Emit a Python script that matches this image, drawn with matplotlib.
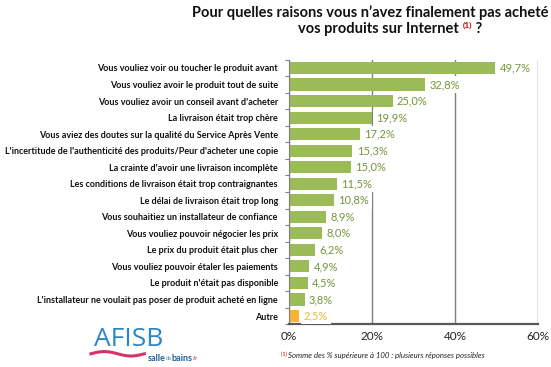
import numpy as np
import matplotlib
matplotlib.use("Agg")
import matplotlib.pyplot as plt

categories = [
    "Vous vouliez voir ou toucher le produit avant",
    "Vous vouliez avoir le produit tout de suite",
    "Vous vouliez avoir un conseil avant d'acheter",
    "La livraison était trop chère",
    "Vous aviez des doutes sur la qualité du Service Après Vente",
    "L'incertitude de l'authenticité des produits/Peur d'acheter une copie",
    "La crainte d'avoir une livraison incomplète",
    "Les conditions de livraison était trop contraignantes",
    "Le délai de livraison était trop long",
    "Vous souhaitiez un installateur de confiance",
    "Vous vouliez pouvoir négocier les prix",
    "Le prix du produit était plus cher",
    "Vous vouliez pouvoir étaler les paiements",
    "Le produit n'était pas disponible",
    "L'installateur ne voulait pas poser de produit acheté en ligne",
    "Autre",
]
values = [49.7, 32.8, 25.0, 19.9, 17.2, 15.3, 15.0, 11.5, 10.8, 8.9, 8.0, 6.2, 4.9, 4.5, 3.8, 2.5]
xticks = [0, 20, 40, 60]
xticklabels = ["0%", "20%", "40%", "60%"]

green = "#9BBB59"
green_txt = "#77933C"
orange = "#F9B233"

plt.rcParams['font.family'] = ['Lato', 'DejaVu Sans']

fig = plt.figure(figsize=(5.51, 3.67), dpi=100)
ax = fig.add_axes([0.5245, 0.1163, 0.4519, 0.721])

y = np.arange(len(categories))
colors = [green] * (len(values) - 1) + [orange]
txtcolors = [green_txt] * (len(values) - 1) + [orange]
ax.barh(y, values, height=0.73, color=colors, zorder=2)
ax.set_ylim(len(categories) - 0.5, -0.5)
ax.set_xlim(0, 60)

ax.set_xticks(xticks)
ax.set_xticklabels(xticklabels, fontsize=8.5, color="#222222")
ax.tick_params(axis='x', length=0, pad=5)
ax.xaxis.grid(True, color="#7F7F7F", linewidth=1.0, zorder=0)
ax.set_axisbelow(True)

ax.set_yticks(y)
ax.set_yticklabels(categories, fontsize=6.45, fontweight='bold', color="#111111")
ax.tick_params(axis='y', length=0, pad=8)
ax.set_yticks(np.arange(len(categories) + 1) - 0.5, minor=True)
ax.tick_params(axis='y', which='minor', length=3, color="#7F7F7F", width=0.8)

for s in ['top', 'right']:
    ax.spines[s].set_visible(False)
ax.spines['left'].set_color("#7F7F7F")
ax.spines['left'].set_linewidth(0.8)
ax.spines['bottom'].set_color("#595959")
ax.spines['bottom'].set_linewidth(1.6)

for yi, v, c in zip(y, values, txtcolors):
    ax.annotate(f"{v:.1f}%".replace(".", ","), (v, yi), xytext=(3, 0),
                textcoords='offset points', va='center', ha='left',
                fontsize=8, color=c, zorder=3,
                bbox=dict(boxstyle='square,pad=0.25', fc='white', ec='none'))

renderer = fig.canvas.get_renderer()


def chain(x0, yc, pieces):
    """Draw text pieces one after another starting at figure x0."""
    x = x0
    for txt, kw in pieces:
        dy = kw.pop('dy', 0.0)
        t = fig.text(x, yc + dy, txt, ha='left', va='center', **kw)
        bb = t.get_window_extent(renderer)
        x += bb.width / fig.bbox.width
    return x


# Title
fig.text(0.672, 0.967, "Pour quelles raisons vous n’avez finalement pas acheté",
         ha='center', va='center', fontsize=10.5, fontweight='bold', color="#111111")
chain(0.541, 0.922, [
    ("vos produits sur Internet ", dict(fontsize=10.5, fontweight='bold', color="#111111")),
    ("(1)", dict(fontsize=6, fontweight='bold', color="#C00000", dy=0.01)),
    (" ?", dict(fontsize=10.5, fontweight='bold', color="#111111")),
])

# Footnote
chain(0.510, 0.030, [
    ("(1) ", dict(fontsize=4, color="#C00000", dy=0.004)),
    ("Somme des % supérieure à 100 : plusieurs réponses possibles",
     dict(fontsize=5.6, style='italic', color="#222222")),
])

# Logo
fig.text(0.170, 0.076, "AFISB", ha='left', va='center', fontsize=19,
         color="#2B86C5", family=['Open Sans', 'DejaVu Sans'])
chain(0.268, 0.024, [
    ("salle", dict(fontsize=6.5, fontweight='bold', color="#1F5E96")),
    ("de", dict(fontsize=4, color="#2B86C5")),
    ("bains", dict(fontsize=6.5, fontweight='bold', color="#1F5E96")),
    (".fr", dict(fontsize=4, color="#C2185B")),
])
wx = np.linspace(0.165, 0.262, 60)
wy = 0.036 + 0.006 * np.sin((wx - 0.165) / 0.097 * 2 * np.pi)
fig.add_artist(plt.Line2D(wx, wy, color="#D6336C", linewidth=2.2, transform=fig.transFigure))

fig.savefig("out.png", dpi=100)
